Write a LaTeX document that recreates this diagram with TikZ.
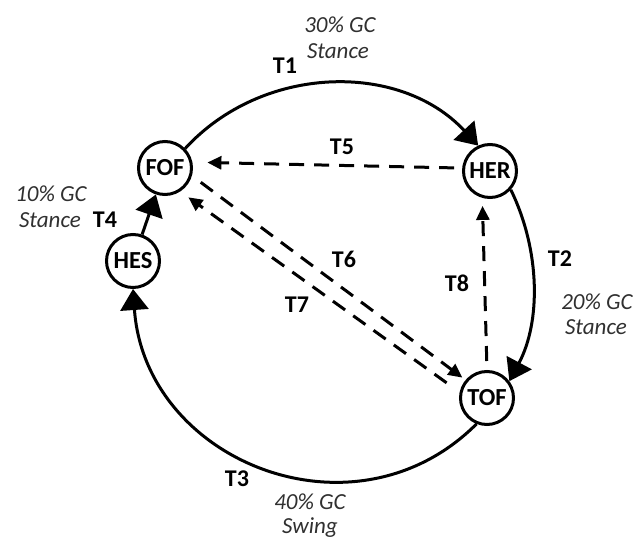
\documentclass[tikz,border=0pt]{standalone}
\usepackage{fontspec}
\setmainfont{Carlito}
\usetikzlibrary{arrows.meta}
\definecolor{lblgray}{HTML}{303030}
\tikzset{
  state/.style={circle, draw, line width=3pt, minimum size=53pt, inner sep=0pt,
    font=\fontsize{24.5}{28}\selectfont\bfseries, fill=white},
  solidarr/.style={line width=3pt, -{Triangle[length=21pt,width=28pt]}},
  dasharr/.style={line width=3pt, dash pattern=on 15pt off 10pt, -{Triangle[length=14pt,width=13pt]}},
  tlabel/.style={anchor=base, inner sep=0pt, font=\fontsize{24}{28}\selectfont\bfseries},
  pct/.style={anchor=base, inner sep=0pt, text=lblgray, font=\fontsize{23}{27}\selectfont\itshape}
}
\begin{document}
\begin{tikzpicture}[x=1pt,y=1pt]
\useasboundingbox (0,0) rectangle (633,-540);

\node[state] (FOF) at (165,-168) {FOF};
\node[state] (HER) at (490,-171) {HER};
\node[state] (HES) at (133,-261) {HES};
\node[state] (TOF) at (487,-398) {TOF};

% solid transitions
\draw[solidarr] (FOF.44) to[out=47.5,in=132.8] (HER.115);
\draw[solidarr] (HER.-42) to[out=-64,in=62,looseness=0.9] (TOF.37);
\draw[solidarr] (TOF.-112) to[out=-135,in=-86,looseness=1.2] (HES.-90);
\draw[solidarr] (HES) -- (FOF);

% dashed transitions
\draw[dasharr, shorten <=8pt, shorten >=15pt] (HER.174) -- (FOF.12);
\draw[dasharr, shorten <=11pt, shorten >=4pt] (FOF.-16) -- (TOF.140);
\draw[dasharr, shorten <=16pt, shorten >=10pt] (TOF.168) -- (FOF.-57);
\draw[dasharr, shorten <=9pt, shorten >=8pt] (TOF.90) -- (HER.-106);

% labels
\node[tlabel] (t1) at (285,-74) {T1};
\node[pct] (p1a) at (340,-33) {30\% GC};
\node[pct] (p1b) at (338,-59) {Stance};

\node[tlabel] (t5) at (342,-155) {T5};

\node[tlabel] (t2) at (560,-267) {T2};
\node[pct] (p2a) at (597,-310) {20\% GC};
\node[pct] (p2b) at (596,-335) {Stance};

\node[tlabel] (t3) at (237,-487) {T3};
\node[pct] (p3a) at (310,-510) {40\% GC};
\node[pct] (p3b) at (310,-534) {Swing};

\node[tlabel] (t4) at (105,-228) {T4};
\node[pct] (p4a) at (51,-202) {10\% GC};
\node[pct] (p4b) at (50,-228) {Stance};

\node[tlabel] (t6) at (344,-268) {T6};
\node[tlabel] (t7) at (297,-313) {T7};
\node[tlabel] (t8) at (457,-292) {T8};
\end{tikzpicture}
\end{document}
